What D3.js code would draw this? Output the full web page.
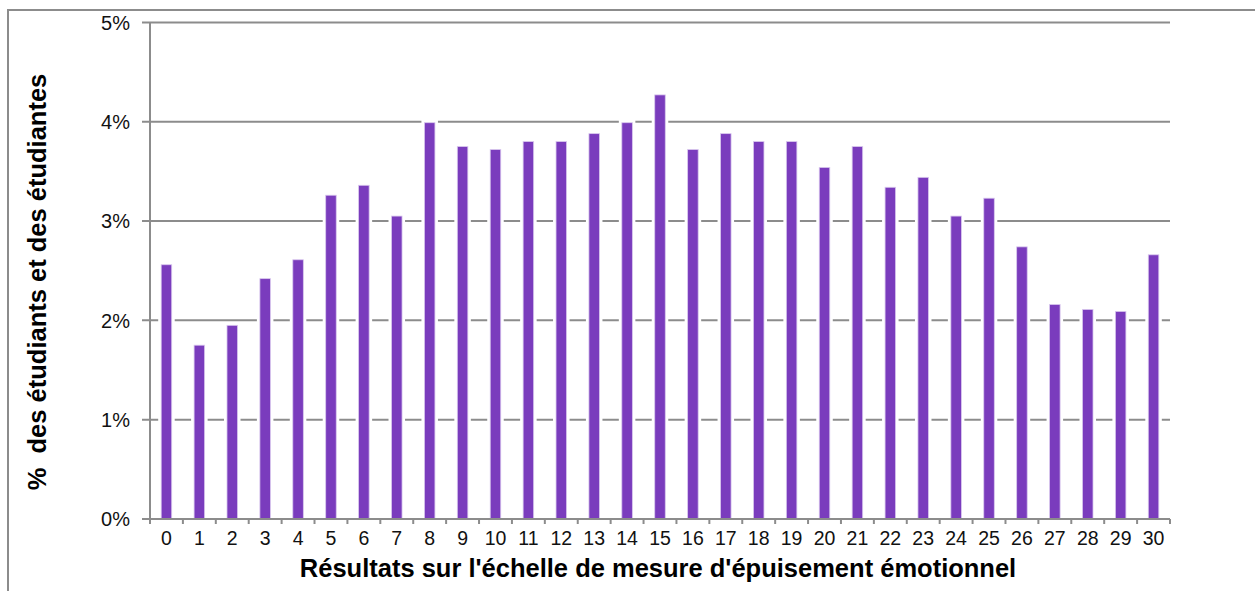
<!DOCTYPE html>
<html>
<head>
<meta charset="utf-8">
<script src="https://cdn.jsdelivr.net/npm/d3@7"></script>
<style>
  html, body { margin: 0; padding: 0; background: #fff; }
  svg { display: block; font-family: "Liberation Sans", Arial, Helvetica, sans-serif; }
</style>
</head>
<body>
<svg id="chart" width="1255" height="591"></svg>
<script>
// --- Data ---

const scores = d3.range(0, 31).map(String);
const percents = [
  2.56, 1.75, 1.95, 2.42, 2.61, 3.26, 3.36, 3.05, 3.99, 3.75,
  3.72, 3.80, 3.80, 3.88, 3.99, 4.27, 3.72, 3.88, 3.80, 3.80,
  3.54, 3.75, 3.34, 3.44, 3.05, 3.23, 2.74, 2.16, 2.11, 2.09,
  2.66
];
const yTicks = [0, 1, 2, 3, 4, 5];

const xTitle = "Résultats sur l'échelle de mesure d'épuisement émotionnel";
const yTitle = "%  des étudiants et des étudiantes";

// --- Layout ---

const W = 1255, H = 591;
const plotLeft = 150, plotRight = 1170, plotTop = 22.4, plotBottom = 519;
const grey = '#8c8c8c';
const purple = '#7a3cbd';

const svg = d3.select('#chart');

const x = d3.scaleBand().domain(scores).range([plotLeft, plotRight]).paddingInner(0.68).paddingOuter(0.34);
const y = d3.scaleLinear().domain([0, 5]).range([plotBottom, plotTop]);

// outer frame (only top + left visible)
svg.append('path')
  .attr('d', `M8,${H} L8,10 L${W},10`)
  .attr('fill', 'none')
  .attr('stroke', grey)
  .attr('stroke-width', 2);

// gridlines with small ticks left of axis
svg.append('g')
  .selectAll('line')
  .data(yTicks.filter(d => d > 0))
  .join('line')
  .attr('x1', plotLeft - 8)
  .attr('x2', plotRight)
  .attr('y1', d => y(d))
  .attr('y2', d => y(d))
  .attr('stroke', grey)
  .attr('stroke-width', 2);

// bars: white halo behind, then purple fill
const bars = svg.append('g');
bars.selectAll('rect.halo')
  .data(percents)
  .join('rect')
  .attr('class', 'halo')
  .attr('x', (d, i) => x(scores[i]) - 3)
  .attr('y', d => y(d) - 3)
  .attr('width', x.bandwidth() + 6)
  .attr('height', d => plotBottom - y(d) + 3)
  .attr('fill', '#fff');
bars.selectAll('rect.bar')
  .data(percents)
  .join('rect')
  .attr('class', 'bar')
  .attr('x', (d, i) => x(scores[i]))
  .attr('y', d => y(d))
  .attr('width', x.bandwidth())
  .attr('height', d => plotBottom - y(d))
  .attr('fill', purple)
  .attr('stroke', '#d9c8ee')
  .attr('stroke-width', 0.8);

// y axis line
svg.append('line')
  .attr('x1', plotLeft).attr('x2', plotLeft)
  .attr('y1', plotTop).attr('y2', plotBottom)
  .attr('stroke', grey).attr('stroke-width', 2);

// x axis
svg.append('line')
  .attr('x1', plotLeft - 8).attr('x2', plotRight)
  .attr('y1', plotBottom).attr('y2', plotBottom)
  .attr('stroke', grey).attr('stroke-width', 2);

const step = x.step();
svg.append('g')
  .selectAll('line')
  .data(d3.range(0, scores.length + 1))
  .join('line')
  .attr('x1', i => plotLeft + i * step)
  .attr('x2', i => plotLeft + i * step)
  .attr('y1', plotBottom)
  .attr('y2', plotBottom + 5)
  .attr('stroke', grey)
  .attr('stroke-width', 2);

// tick labels
svg.append('g')
  .selectAll('text')
  .data(yTicks)
  .join('text')
  .attr('x', 130)
  .attr('y', d => y(d))
  .attr('dy', '0.36em')
  .attr('text-anchor', 'end')
  .attr('font-size', 20)
  .attr('fill', '#111')
  .text(d => d + '%');

svg.append('g')
  .selectAll('text')
  .data(scores)
  .join('text')
  .attr('x', d => x(d) + x.bandwidth() / 2)
  .attr('y', 545)
  .attr('text-anchor', 'middle')
  .attr('font-size', 19.5)
  .attr('fill', '#111')
  .text(d => d);

// titles
svg.append('text')
  .attr('x', 658)
  .attr('y', 577)
  .attr('text-anchor', 'middle')
  .attr('font-size', 25.5)
  .attr('font-weight', 'bold')
  .attr('fill', '#000')
  .text(xTitle);

svg.append('text')
  .attr('transform', 'translate(46,282) rotate(-90)')
  .attr('text-anchor', 'middle')
  .attr('font-size', 25.5)
  .attr('font-weight', 'bold')
  .attr('fill', '#000')
  .style('white-space', 'pre')
  .text(yTitle);
</script>
</body>
</html>
